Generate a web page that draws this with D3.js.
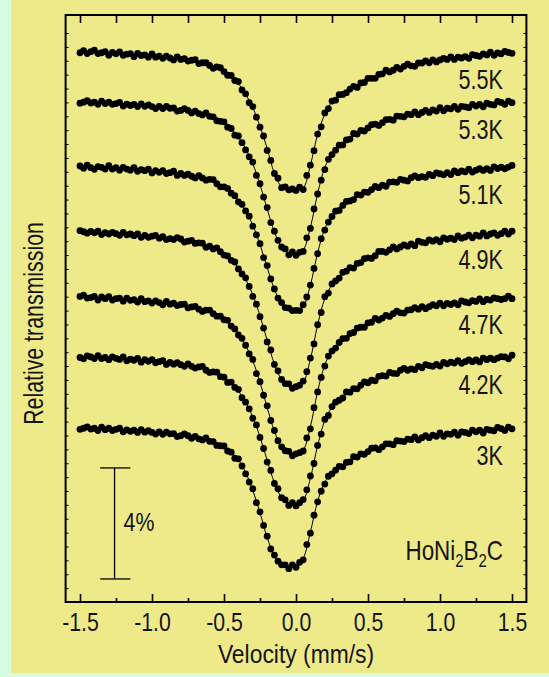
<!DOCTYPE html>
<html><head><meta charset="utf-8">
<script src="https://cdn.jsdelivr.net/npm/d3@7"></script>
<style>body{margin:0;}svg{display:block;}</style>
</head><body>
<svg id="chart" width="549" height="677"></svg>
<script>
// ---------------- DATA ----------------
const temperatures = ["5.5K", "5.3K", "5.1K", "4.9K", "4.7K", "4.2K", "3K"];
// vertical offsets of each spectrum baseline (% of relative transmission)
const offsets = [19.82, 18.02, 15.68, 13.33, 10.99, 8.83, 6.27];
const xMajorTicks = [-1.5, -1.0, -0.5, 0.0, 0.5, 1.0, 1.5];
const xMinorTicks = [-1.25, -0.75, -0.25, 0.25, 0.75, 1.25];
const scaleBarPercent = 4;
const compound = ["HoNi", "2", "B", "2", "C"];

// measured absorption (% below baseline), channels from -1.5 to 1.5 mm/s, step 0.025
const dots55 = [0.03,-0.05,0.06,-0.01,-0.06,0.06,0.03,-0.01,0.12,0.02,0.07,0.00,0.12,0.08,0.06,0.17,0.05,0.13,0.11,0.19,0.07,0.19,0.15,0.23,0.15,0.22,0.29,0.18,0.27,0.24,0.33,0.30,0.28,0.42,0.39,0.39,0.49,0.59,0.54,0.57,0.71,0.84,0.85,1.03,1.07,1.37,1.51,1.83,1.97,2.35,2.71,3.03,3.55,3.91,4.38,4.55,4.89,4.86,4.97,4.94,4.99,4.87,4.96,4.45,4.08,3.56,2.96,2.70,2.20,2.04,1.77,1.74,1.54,1.53,1.47,1.34,1.24,1.28,1.12,1.10,0.95,0.95,0.95,0.81,0.79,0.66,0.72,0.66,0.56,0.62,0.52,0.44,0.50,0.52,0.40,0.40,0.32,0.39,0.29,0.36,0.29,0.23,0.27,0.18,0.27,0.19,0.22,0.17,0.23,0.10,0.13,0.16,0.07,0.11,0.01,0.12,0.04,0.07,-0.02,0.02,0.05];
const dots53 = [0.05,0.01,-0.04,0.04,0.01,0.09,-0.03,0.06,0.01,0.09,0.06,0.02,0.15,0.08,0.13,0.09,0.17,0.07,0.16,0.11,0.17,0.24,0.16,0.24,0.16,0.23,0.22,0.33,0.31,0.24,0.31,0.40,0.33,0.42,0.47,0.40,0.52,0.54,0.68,0.70,0.72,0.91,0.96,1.20,1.23,1.47,1.73,1.98,2.17,2.65,2.95,3.43,3.81,4.35,4.66,4.99,5.23,5.30,5.51,5.41,5.53,5.42,5.39,4.90,4.56,3.86,3.32,2.82,2.44,2.07,1.90,1.74,1.56,1.55,1.37,1.34,1.14,1.16,1.03,1.05,0.94,0.82,0.80,0.85,0.75,0.64,0.63,0.66,0.51,0.52,0.54,0.44,0.46,0.36,0.46,0.38,0.31,0.38,0.29,0.33,0.21,0.32,0.23,0.25,0.16,0.27,0.16,0.18,0.21,0.09,0.15,0.09,0.18,0.05,0.09,0.11,-0.02,0.02,0.09,-0.03,0.03];
const dots51 = [-0.03,0.05,-0.06,0.03,0.09,-0.01,0.02,0.08,-0.04,0.08,0.03,0.12,0.02,0.08,0.12,0.03,0.16,0.10,0.14,0.08,0.22,0.14,0.20,0.14,0.24,0.21,0.16,0.31,0.24,0.31,0.26,0.34,0.40,0.32,0.40,0.48,0.45,0.46,0.61,0.72,0.72,0.78,0.95,1.04,1.26,1.35,1.59,1.78,2.14,2.45,2.77,3.27,3.56,4.04,4.40,4.73,4.89,5.07,5.09,5.18,5.17,5.18,4.97,4.69,4.26,3.66,3.13,2.59,2.28,1.99,1.79,1.60,1.57,1.39,1.25,1.23,1.18,1.00,1.02,0.91,0.92,0.82,0.71,0.75,0.66,0.70,0.55,0.54,0.56,0.45,0.48,0.51,0.39,0.33,0.39,0.35,0.38,0.27,0.32,0.22,0.25,0.29,0.21,0.28,0.15,0.21,0.15,0.18,0.08,0.19,0.12,0.07,0.13,0.07,0.13,0.00,0.06,0.01,0.07,0.01,-0.05];
const dots49 = [-0.05,-0.01,0.04,-0.02,0.03,-0.03,0.09,0.02,0.07,0.01,0.06,0.12,0.01,0.10,0.07,0.13,0.07,0.19,0.12,0.19,0.15,0.12,0.22,0.17,0.27,0.24,0.27,0.20,0.25,0.36,0.33,0.30,0.41,0.39,0.40,0.55,0.51,0.61,0.57,0.71,0.83,0.86,1.02,1.08,1.33,1.51,1.65,1.96,2.32,2.60,3.05,3.46,3.96,4.25,4.77,5.00,5.31,5.46,5.47,5.63,5.57,5.52,5.37,5.03,4.54,4.03,3.34,2.90,2.33,2.20,1.87,1.76,1.66,1.45,1.41,1.28,1.30,1.13,1.10,0.96,0.93,0.95,0.85,0.70,0.70,0.73,0.64,0.54,0.61,0.54,0.46,0.51,0.43,0.49,0.33,0.37,0.39,0.28,0.33,0.27,0.35,0.21,0.26,0.22,0.27,0.14,0.22,0.18,0.11,0.21,0.11,0.15,0.03,0.14,0.07,0.03,0.12,0.06,-0.03,0.07,-0.03];
const dots47 = [-0.02,-0.07,0.04,0.02,-0.02,0.11,0.00,0.06,-0.01,0.11,0.06,0.04,0.15,0.04,0.12,0.10,0.18,0.06,0.17,0.14,0.22,0.14,0.20,0.28,0.16,0.26,0.22,0.31,0.27,0.26,0.39,0.36,0.34,0.44,0.52,0.47,0.47,0.60,0.69,0.69,0.82,0.84,1.05,1.15,1.37,1.49,1.74,2.05,2.25,2.76,3.05,3.54,3.92,4.45,4.81,5.18,5.40,5.54,5.56,5.72,5.65,5.61,5.55,5.08,4.75,3.99,3.42,2.90,2.49,2.13,1.95,1.84,1.64,1.50,1.49,1.32,1.28,1.12,1.09,1.09,0.93,0.91,0.77,0.83,0.76,0.66,0.70,0.60,0.51,0.57,0.58,0.47,0.46,0.38,0.44,0.35,0.42,0.35,0.28,0.32,0.22,0.32,0.23,0.27,0.21,0.28,0.14,0.18,0.21,0.13,0.16,0.07,0.17,0.09,0.11,0.03,0.06,0.09,0.06,-0.03,0.06];
const dots42 = [0.02,0.07,-0.04,0.00,0.06,-0.05,0.06,0.02,0.10,0.00,0.05,0.09,0.00,0.14,0.08,0.12,0.05,0.19,0.10,0.16,0.10,0.21,0.17,0.13,0.27,0.20,0.26,0.21,0.28,0.34,0.25,0.34,0.40,0.36,0.34,0.48,0.56,0.54,0.55,0.71,0.73,0.92,0.91,1.10,1.17,1.47,1.63,1.87,2.21,2.45,2.90,3.30,3.79,4.09,4.56,4.75,5.07,5.15,5.35,5.25,5.37,5.25,5.14,4.79,4.29,3.84,3.19,2.78,2.25,2.11,1.79,1.63,1.56,1.48,1.26,1.27,1.14,1.15,1.02,0.90,0.93,0.84,0.86,0.70,0.67,0.69,0.56,0.59,0.60,0.48,0.41,0.48,0.43,0.46,0.34,0.39,0.28,0.31,0.34,0.27,0.33,0.20,0.25,0.19,0.22,0.13,0.23,0.17,0.11,0.17,0.11,0.18,0.04,0.10,0.04,0.10,0.04,-0.01,0.00,0.07,-0.06];
const dots3 = [0.05,0.01,-0.04,0.04,0.01,0.09,-0.03,0.06,0.01,0.09,0.05,0.01,0.14,0.07,0.12,0.08,0.16,0.06,0.15,0.10,0.16,0.22,0.14,0.23,0.15,0.21,0.20,0.31,0.28,0.21,0.28,0.37,0.30,0.39,0.43,0.36,0.48,0.49,0.63,0.64,0.65,0.83,0.87,1.09,1.11,1.37,1.65,1.95,2.19,2.69,3.02,3.51,3.90,4.36,4.58,4.80,4.93,4.93,5.07,4.93,5.02,4.84,4.75,4.20,3.79,3.14,2.66,2.28,2.02,1.74,1.65,1.52,1.38,1.40,1.24,1.22,1.03,1.05,0.93,0.95,0.85,0.73,0.72,0.78,0.68,0.57,0.57,0.60,0.46,0.47,0.49,0.40,0.42,0.32,0.43,0.35,0.28,0.35,0.26,0.30,0.18,0.30,0.21,0.23,0.15,0.26,0.14,0.16,0.20,0.08,0.14,0.08,0.18,0.05,0.08,0.10,-0.02,0.02,0.09,-0.03,0.03];

// fitted curves (% below baseline), -1.5 to 1.5 mm/s, step 0.05
const fit55 = [0,0,0.01,0.02,0.04,0.05,0.07,0.09,0.10,0.12,0.14,0.17,0.19,0.22,0.25,0.29,0.33,0.39,0.46,0.56,0.70,0.88,1.14,1.52,2.01,2.68,3.48,4.37,4.85,4.92,4.97,4.90,4.08,2.98,2.25,1.80,1.60,1.42,1.28,1.14,1.00,0.89,0.78,0.68,0.60,0.53,0.47,0.42,0.37,0.32,0.28,0.25,0.22,0.19,0.16,0.13,0.10,0.07,0.05,0.02,0];
const fit53 = [0,0,0.02,0.03,0.04,0.06,0.08,0.10,0.12,0.14,0.16,0.19,0.21,0.24,0.28,0.32,0.37,0.43,0.51,0.62,0.77,0.98,1.27,1.68,2.23,2.98,3.86,4.68,5.23,5.45,5.51,5.34,4.52,3.31,2.37,1.87,1.60,1.38,1.21,1.06,0.93,0.82,0.72,0.63,0.56,0.50,0.44,0.39,0.35,0.31,0.28,0.24,0.21,0.19,0.16,0.13,0.10,0.08,0.05,0.03,0];
const fit51 = [0,0,0.02,0.03,0.04,0.05,0.07,0.09,0.11,0.13,0.15,0.18,0.20,0.23,0.26,0.30,0.35,0.40,0.48,0.59,0.73,0.92,1.19,1.58,2.10,2.80,3.63,4.41,4.93,5.14,5.19,5.03,4.26,3.11,2.23,1.76,1.51,1.30,1.14,1.00,0.87,0.77,0.67,0.59,0.52,0.47,0.42,0.37,0.33,0.29,0.26,0.23,0.20,0.18,0.15,0.12,0.10,0.07,0.05,0.03,0];
const fit49 = [0,0,0.02,0.03,0.04,0.06,0.08,0.10,0.12,0.14,0.16,0.19,0.22,0.25,0.28,0.32,0.37,0.44,0.52,0.63,0.78,1.00,1.29,1.70,2.26,3.02,3.91,4.75,5.31,5.53,5.59,5.42,4.58,3.35,2.40,1.90,1.62,1.40,1.23,1.07,0.94,0.83,0.73,0.64,0.56,0.50,0.45,0.40,0.35,0.31,0.28,0.25,0.22,0.19,0.16,0.13,0.11,0.08,0.05,0.03,0];
const fit47 = [0,0,0.02,0.03,0.05,0.06,0.08,0.10,0.12,0.14,0.17,0.19,0.22,0.25,0.28,0.33,0.38,0.44,0.53,0.64,0.80,1.01,1.31,1.74,2.30,3.07,3.98,4.84,5.41,5.63,5.69,5.52,4.67,3.41,2.45,1.93,1.65,1.42,1.25,1.09,0.96,0.84,0.74,0.65,0.57,0.51,0.46,0.40,0.36,0.32,0.28,0.25,0.22,0.19,0.17,0.14,0.11,0.08,0.05,0.03,0];
const fit42 = [0,0,0.02,0.03,0.04,0.05,0.07,0.10,0.11,0.13,0.15,0.18,0.21,0.23,0.27,0.31,0.36,0.42,0.50,0.60,0.75,0.95,1.23,1.63,2.16,2.88,3.73,4.53,5.06,5.28,5.33,5.17,4.37,3.20,2.29,1.81,1.55,1.33,1.17,1.02,0.90,0.79,0.69,0.61,0.54,0.48,0.43,0.38,0.34,0.30,0.27,0.23,0.21,0.18,0.15,0.13,0.10,0.07,0.05,0.03,0];
const fit3 = [0,0,0.02,0.03,0.04,0.05,0.07,0.09,0.11,0.13,0.15,0.17,0.20,0.22,0.25,0.29,0.34,0.39,0.47,0.57,0.70,0.89,1.15,1.60,2.25,3.05,3.95,4.60,4.93,5.01,5.00,4.70,3.75,2.65,1.95,1.62,1.42,1.25,1.10,0.96,0.84,0.74,0.65,0.57,0.51,0.45,0.40,0.36,0.32,0.28,0.25,0.22,0.20,0.17,0.15,0.12,0.10,0.07,0.05,0.03,0];

const dotSeries = [dots55, dots53, dots51, dots49, dots47, dots42, dots3];
const fitSeries = [fit55, fit53, fit51, fit49, fit47, fit42, fit3];
const dotVelocity = d3.range(dots55.length).map(i => -1.5 + i * 0.025);
const fitVelocity = d3.range(fit55.length).map(i => -1.5 + i * 0.05);

// ---------------- DRAW ----------------
(function () {
const FONT = "'Liberation Sans', Arial, sans-serif";
const INK = "#141414";
const svg = d3.select("#chart");
const x = d3.scaleLinear().domain([-1.6, 1.6]).range([65.6, 526.4]);
const y = d3.scaleLinear().domain([0, 21.15]).range([602, 15]);

// narrow text helper: anchored at (tx,ty), squeezed horizontally
function narrowText(sel, tx, ty, size, squeeze, anchor, rot) {
  return sel.append("text")
    .attr("transform", `translate(${tx},${ty})` + (rot ? ` rotate(${rot})` : "") + ` scale(${squeeze},1)`)
    .attr("text-anchor", anchor).attr("font-family", FONT).attr("font-size", size).attr("fill", INK);
}

svg.append("rect").attr("width", 549).attr("height", 677).attr("fill", "#d5fbe1");
svg.append("rect").attr("x", 11).attr("y", 0).attr("width", 538).attr("height", 673).attr("fill", "#eeea8a");

const xAll = xMajorTicks.concat(xMinorTicks);
const gBottom = svg.append("g").attr("transform", `translate(0,${y(0)})`)
  .call(d3.axisBottom(x).tickValues(xMajorTicks).tickSize(-8).tickSizeOuter(0).tickPadding(11).tickFormat(d => d.toFixed(1)));
gBottom.select(".domain").remove();
gBottom.selectAll("line").attr("stroke-width", 1.6);
gBottom.selectAll("text").attr("font-family", FONT).attr("font-size", 25).attr("fill", INK)
  .attr("transform", "scale(0.85,1)");
const gBottomMinor = svg.append("g").attr("transform", `translate(0,${y(0)})`)
  .call(d3.axisBottom(x).tickValues(xMinorTicks).tickSize(-4).tickSizeOuter(0).tickFormat(""));
gBottomMinor.select(".domain").remove();
gBottomMinor.selectAll("line").attr("stroke-width", 1.6);

const gTop = svg.append("g").attr("transform", `translate(0,${y(21.15)})`)
  .call(d3.axisTop(x).tickValues(xAll).tickSize(-8).tickSizeOuter(0).tickFormat(""));
gTop.select(".domain").remove();
gTop.selectAll("line").attr("stroke-width", 1.6);

const yTicks = d3.range(0.5, 21, 0.5);
const gLeft = svg.append("g").attr("transform", `translate(${x(-1.6)},0)`)
  .call(d3.axisLeft(y).tickValues(yTicks).tickSize(-3).tickSizeOuter(0).tickFormat(""));
gLeft.select(".domain").remove();
gLeft.selectAll("line").attr("stroke-width", 1);
const gRight = svg.append("g").attr("transform", `translate(${x(1.6)},0)`)
  .call(d3.axisRight(y).tickValues(yTicks).tickSize(-3).tickSizeOuter(0).tickFormat(""));
gRight.select(".domain").remove();
gRight.selectAll("line").attr("stroke-width", 1);

svg.append("rect").attr("x", x(-1.6)).attr("y", y(21.15))
  .attr("width", x(1.6) - x(-1.6)).attr("height", y(0) - y(21.15))
  .attr("fill", "none").attr("stroke", "#000").attr("stroke-width", 2);

const line = d3.line().curve(d3.curveCatmullRom.alpha(0.5));
temperatures.forEach((t, k) => {
  const off = offsets[k];
  const fit = fitSeries[k];
  svg.append("path")
    .attr("d", line(fit.map((v, i) => [x(fitVelocity[i]), y(off - v)])))
    .attr("fill", "none").attr("stroke", "#000").attr("stroke-width", 1);
  svg.append("g").selectAll("circle").data(dotSeries[k]).join("circle")
    .attr("cx", (d, i) => x(dotVelocity[i]))
    .attr("cy", d => y(off - d))
    .attr("r", 3.4).attr("fill", "#000");
  narrowText(svg, x(1.5) - 9, y(off) + 37, 27, 0.8, "end").text(t);
});

const barV = -1.26, barBase = 0.83;
const barX = x(barV);
svg.append("line").attr("x1", barX).attr("x2", barX).attr("y1", y(barBase)).attr("y2", y(barBase + scaleBarPercent))
  .attr("stroke", "#000").attr("stroke-width", 1.3);
[barBase, barBase + scaleBarPercent].forEach(v => {
  svg.append("line").attr("x1", x(barV - 0.1)).attr("x2", x(barV + 0.11)).attr("y1", y(v)).attr("y2", y(v))
    .attr("stroke", "#000").attr("stroke-width", 1.3);
});
narrowText(svg, barX + 9, y(barBase + scaleBarPercent / 2) + 8, 26, 0.82, "start").text(scaleBarPercent + "%");

const comp = narrowText(svg, x(1.5) - 9, 560, 27, 0.83, "end");
compound.forEach((s, i) => {
  const sub = /^\d$/.test(s);
  comp.append("tspan").attr("font-size", sub ? 18 : 27).attr("dy", i === 0 ? 0 : (sub ? 7 : -7)).text(s);
});

narrowText(svg, x(0), 663, 26, 0.88, "middle").text("Velocity (mm/s)");
narrowText(svg, 43, (y(0) + y(21.15)) / 2 + 15, 27, 0.79, "middle", -90).text("Relative transmission");
})();
</script>
</body></html>
